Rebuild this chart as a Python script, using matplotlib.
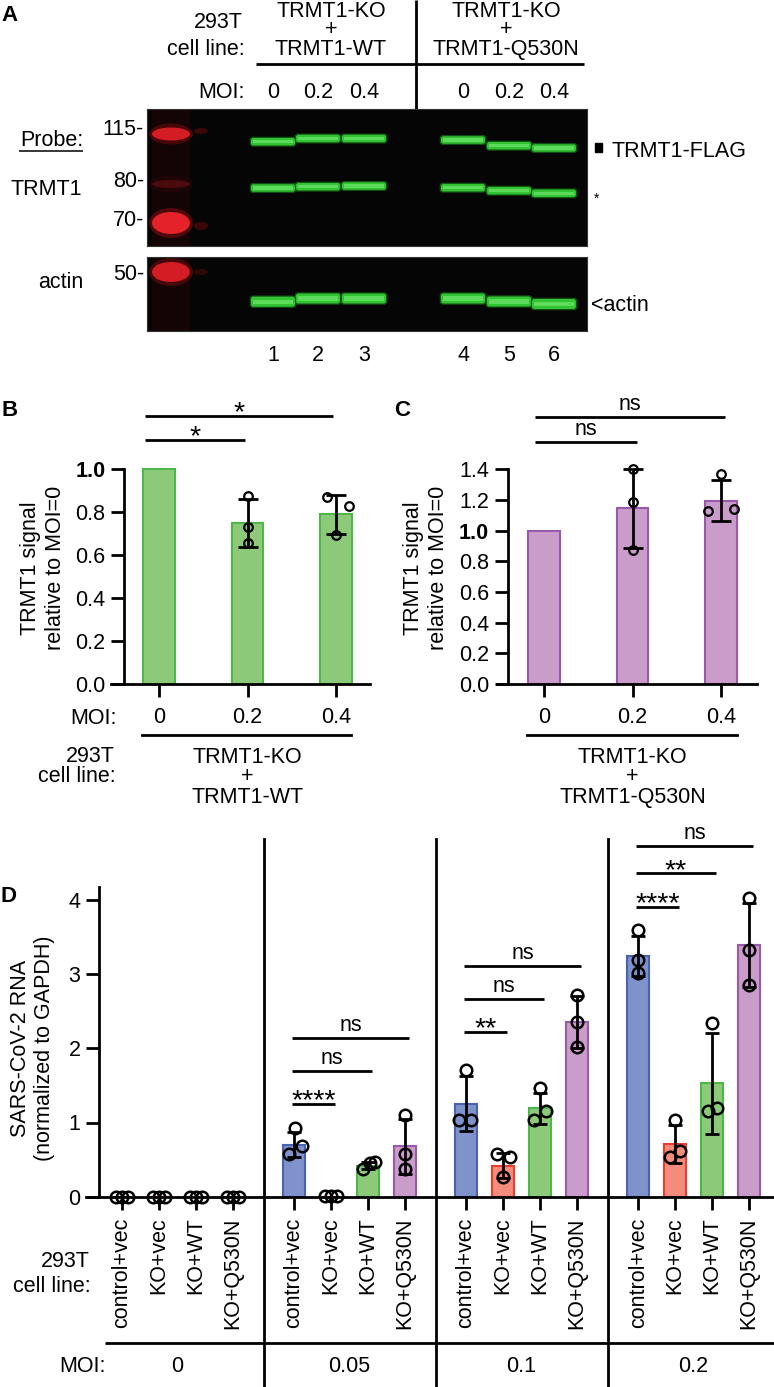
import matplotlib
matplotlib.use('Agg')
import matplotlib.pyplot as plt
import matplotlib.transforms as mtransforms
from matplotlib.patches import Rectangle, Ellipse, FancyBboxPatch
import numpy as np

plt.rcParams['font.family'] = ['Liberation Sans', 'DejaVu Sans']
FS = 15.5
FS_STAR = 20.5

# ---------------- data ----------------
# Panel A (western blot)
A_group_top = ['TRMT1-KO', 'TRMT1-KO']
A_group_bottom = ['TRMT1-WT', 'TRMT1-Q530N']
A_moi = ['0', '0.2', '0.4', '0', '0.2', '0.4']
A_lane_numbers = ['1', '2', '3', '4', '5', '6']
A_markers = ['115-', '80-', '70-', '50-']
A_marker_rows = [135, 187.3, 225.7, 280]
A_flag_band = [141.7, 138.5, 138.5, 140.0, 145.7, 148.0]
A_star_band = [188.0, 186.7, 186.0, 187.7, 190.7, 193.3]
A_actin_band = [301.7, 298.5, 298.5, 298.5, 301.5, 304.0]

# Panel B
B_moi = ['0', '0.2', '0.4']
B_mean = [1.0, 0.75, 0.79]
B_sd = [0.0, 0.11, 0.092]
B_points = [[], [0.875, 0.73, 0.655], [0.87, 0.83, 0.695]]
B_sig = [(0, 2, 1.248, '*'), (0, 1, 1.136, '*')]

# Panel C
C_moi = ['0', '0.2', '0.4']
C_mean = [1.0, 1.145, 1.195]
C_sd = [0.0, 0.258, 0.134]
C_points = [[], [1.40, 1.19, 0.875], [1.13, 1.14, 1.37]]
C_sig = [(0, 2, 1.74, 'ns'), (0, 1, 1.58, 'ns')]

# Panel D
D_cells = ['control+vec', 'KO+vec', 'KO+WT', 'KO+Q530N']
D_moi = ['0', '0.05', '0.1', '0.2']
D_mean_moi0 = [0.0, 0.0, 0.0, 0.0]
D_mean_moi005 = [0.70, 0.0, 0.42, 0.68]
D_mean_moi01 = [1.25, 0.42, 1.19, 2.36]
D_mean_moi02 = [3.25, 0.71, 1.53, 3.39]
D_sd_moi0 = [0.0, 0.0, 0.0, 0.0]
D_sd_moi005 = [0.17, 0.0, 0.05, 0.37]
D_sd_moi01 = [0.37, 0.17, 0.21, 0.35]
D_sd_moi02 = [0.27, 0.25, 0.68, 0.57]
D_pts_moi0 = [[0, 0, 0], [0, 0, 0], [0, 0, 0], [0, 0, 0]]
D_pts_moi005 = [[0.92, 0.68, 0.57], [0.01, 0.01, 0.01], [0.38, 0.46, 0.47], [1.10, 0.58, 0.38]]
D_pts_moi01 = [[1.71, 1.04, 1.04], [0.58, 0.53, 0.26], [1.46, 1.16, 1.03], [2.72, 2.36, 2.02]]
D_pts_moi02 = [[3.59, 3.19, 3.01], [1.03, 0.54, 0.61], [2.34, 1.15, 1.19], [4.02, 3.33, 2.85]]
D_sig_moi005 = [(0, 1, 1.248, '****'), (0, 2, 1.698, 'ns'), (0, 3, 2.143, 'ns')]
D_sig_moi01 = [(0, 1, 2.224, '**'), (0, 2, 2.66, 'ns'), (0, 3, 3.11, 'ns')]
D_sig_moi02 = [(0, 1, 3.908, '****'), (0, 2, 4.358, '**'), (0, 3, 4.726, 'ns')]

# ---------------- layout / style ----------------
W, H = 774, 1387
A_lane_x = [273, 318, 364, 463, 509, 554]
B_jit = [[], [0, 0, 0], [-0.10, 0.15, 0.0]]
C_jit = [[], [0, 0, 0], [-0.15, 0.15, 0.0]]
D_jit = [
    [[-0.16, 0, 0.16], [-0.16, 0, 0.16], [-0.16, 0, 0.16], [-0.16, 0, 0.16]],
    [[0.03, 0.22, -0.15], [-0.16, 0, 0.16], [-0.14, 0.06, 0.2], [0, 0, 0]],
    [[0, -0.19, 0.14], [-0.17, 0.18, 0], [0, 0.17, -0.17], [0, 0, 0]],
    [[0, 0, 0], [0, -0.14, 0.12], [0, -0.12, 0.13], [0, 0, 0]],
]
D_fill = ['#8092CC', '#F48C7C', '#8CCA7A', '#CA9CCA']
D_edge = ['#4A62B2', '#EE3B2E', '#4DB848', '#9B59AC']
GREEN_FILL, GREEN_EDGE = '#8CCA7A', '#4DB848'
PURPLE_FILL, PURPLE_EDGE = '#CA9CCA', '#9B59AC'

fig = plt.figure(figsize=(W / 100, H / 100), dpi=100)


def px_axes(x0, y0, x1, y1):
    return fig.add_axes([x0 / W, 1 - y1 / H, (x1 - x0) / W, (y1 - y0) / H])


ov = px_axes(0, 0, W, H)
ov.set_xlim(0, W)
ov.set_ylim(H, 0)
ov.axis('off')


def T(x, y, s, ha='center', va='baseline', fs=FS, **kw):
    ov.text(x, y, s, ha=ha, va=va, fontsize=fs, color='black', **kw)


def L(xs, ys, lw=2.0):
    ov.plot(xs, ys, color='black', lw=lw, solid_capstyle='butt')


# ================= Panel A =================
T(9.5, 20.7, 'A', fs=16, fontweight='bold')
T(243, 28, '293T', ha='right')
T(245, 55, 'cell line:', ha='right')
for c, top, bot in zip([331, 506], A_group_top, A_group_bottom):
    T(c, 16.7, top)
    T(c, 35, '+')
    T(c, 55, bot)
L([256, 584], [64, 64])
L([416, 416], [0, 109])
T(245, 98.3, 'MOI:', ha='right')
for x, m in zip(A_lane_x, A_moi):
    T(x, 98.3, m)
T(83, 146, 'Probe:', ha='right')
L([19, 83], [150.5, 150.5], lw=1.1)
T(82, 195, 'TRMT1', ha='right')
T(83, 288, 'actin', ha='right')
for m, r in zip(A_markers, A_marker_rows):
    T(144, r, m, ha='right')
ov.add_patch(Rectangle((595, 143), 7, 9, color='black'))
T(611, 156.7, 'TRMT1-FLAG', ha='left')
T(597, 203, '*', fs=10)
T(591, 311, '<actin', ha='left')
for x, n in zip(A_lane_x, A_lane_numbers):
    T(x, 361, n)

blot1 = px_axes(146.6, 109, 587, 246)
blot1.set_xlim(146.6, 587)
blot1.set_ylim(246, 109)
blot2 = px_axes(146.6, 257, 587, 331)
blot2.set_xlim(146.6, 587)
blot2.set_ylim(331, 257)
for b in (blot1, blot2):
    b.set_facecolor('#050505')
    b.set_xticks([])
    b.set_yticks([])
    for s in b.spines.values():
        s.set_color('#333333')
        s.set_linewidth(0.8)


def band(ax, xc, yc, hw, h):
    ax.add_patch(FancyBboxPatch((xc - hw, yc - h / 2), 2 * hw, h,
                                boxstyle='round,pad=1.2,rounding_size=3',
                                fc='#147014', ec='none', alpha=0.75))
    ax.add_patch(FancyBboxPatch((xc - hw, yc - h / 2), 2 * hw, h,
                                boxstyle='round,pad=0,rounding_size=2.5',
                                fc='#33C233', ec='none'))
    ax.add_patch(Rectangle((xc - hw + 2, yc - h * 0.22), 2 * hw - 4, h * 0.44,
                           fc='#6BE36B', ec='none', alpha=0.75))


for x, y1, y2, y3 in zip(A_lane_x, A_flag_band, A_star_band, A_actin_band):
    band(blot1, x, y1, 22, 7.5)
    band(blot1, x, y2, 22, 7.5)
    band(blot2, x, y3, 22, 10)


def ladder(ax, yc, h, col, glow):
    ax.add_patch(Ellipse((171, yc), 44, h + 8, fc=glow, ec='none', alpha=0.6))
    ax.add_patch(Ellipse((171, yc), 38, h, fc=col, ec='none'))


blot1.add_patch(Rectangle((152, 109), 38, 137, fc='#2a0406', ec='none', alpha=0.45))
blot2.add_patch(Rectangle((152, 257), 38, 74, fc='#2a0406', ec='none', alpha=0.45))
ladder(blot1, 134, 13, '#D41C24', '#6a0a0e')
ladder(blot1, 184, 8, '#4a0a0e', '#2a0406')
ladder(blot1, 223, 22, '#E3222A', '#7a0c10')
ladder(blot2, 272, 20, '#D41C24', '#6a0a0e')
blot1.add_patch(Ellipse((201, 131), 14, 6, fc='#3a0808', ec='none'))
blot1.add_patch(Ellipse((201, 226), 14, 8, fc='#3a0808', ec='none'))
blot2.add_patch(Ellipse((201, 272), 14, 6, fc='#300606', ec='none'))


# ================= helper for bar panels =================
def style_axes(ax, xleft, ybounds, xtick_len=9.4):
    for s in ('top', 'right'):
        ax.spines[s].set_visible(False)
    ax.spines['left'].set_position(('data', xleft))
    ax.spines['left'].set_bounds(*ybounds)
    ax.spines['left'].set_linewidth(2)
    ax.spines['bottom'].set_linewidth(2)
    ax.set_facecolor('none')
    ax.tick_params(axis='y', length=9.4, width=2, labelsize=FS, pad=4)
    ax.tick_params(axis='x', length=xtick_len, width=2, labelsize=FS, pad=7)


def sig(ax, x0, x1, y, text):
    ax.plot([x0, x1], [y, y], color='black', lw=2, clip_on=False, solid_capstyle='butt')
    if '*' in text:
        off, fs = -3.3, FS_STAR
    else:
        off, fs = 5, FS
    ax.annotate(text, xy=((x0 + x1) / 2, y), xytext=(0, off), textcoords='offset points',
                ha='center', va='baseline', fontsize=fs, annotation_clip=False)


def small_panel(ax, means, sds, pts, jit, fc, ec):
    x = np.arange(len(means))
    ax.bar(x, means, 0.36, color=fc, edgecolor=ec, linewidth=1.5, zorder=2)
    for i in range(len(means)):
        if sds[i] > 0:
            ax.errorbar(x[i], means[i], yerr=sds[i], fmt='none', ecolor='black',
                        elinewidth=2, capsize=7.2, capthick=2, zorder=3)
        if pts[i]:
            ax.plot(x[i] + np.array(jit[i]), pts[i], 'o', mfc='none', mec='black',
                    mew=1.6, ms=6.2, zorder=4, clip_on=False)


# ================= Panel B =================
U = 88.5
axB = px_axes(111, 390, 370, 684)
axB.set_xlim((111 - 159) / U, (370 - 159) / U)
axB.set_ylim(0, (684 - 390) / 214.7)
small_panel(axB, B_mean, B_sd, B_points, B_jit, GREEN_FILL, GREEN_EDGE)
style_axes(axB, (124 - 159) / U, (0, 1.0))
axB.set_yticks(np.arange(0, 1.01, 0.2))
axB.set_yticklabels(['%.1f' % v for v in np.arange(0, 1.01, 0.2)])
axB.set_xticks(range(len(B_moi)))
axB.set_xticklabels(B_moi)
for lbl in axB.get_yticklabels():
    if lbl.get_text() == '1.0':
        lbl.set_fontweight('bold')
axB.set_ylabel('TRMT1 signal\nrelative to MOI=0', fontsize=FS, linespacing=1.25)
axB.yaxis.set_label_coords(66, 568, transform=ov.transData)
for i, j, y, t in B_sig:
    sig(axB, i - 0.16, j - 0.03, y, t)
trB = mtransforms.blended_transform_factory(axB.transData, ov.transData)
axB.plot([-0.19, 2.17], [735, 735], transform=trB, color='black', lw=2, clip_on=False)
axB.text(1, 763, 'TRMT1-KO', transform=trB, ha='center', va='baseline', fontsize=FS)
axB.text(1, 782, '+', transform=trB, ha='center', va='baseline', fontsize=FS)
axB.text(1, 802.7, 'TRMT1-WT', transform=trB, ha='center', va='baseline', fontsize=FS)
T(117, 724, 'MOI:', ha='right')
T(115, 761.7, '293T', ha='right')
T(116, 781.7, 'cell line:', ha='right')
T(10, 416, 'B', fs=16, fontweight='bold')

# ================= Panel C =================
axC = px_axes(497, 390, 757, 684)
axC.set_xlim((497 - 544) / U, (757 - 544) / U)
axC.set_ylim(0, (684 - 390) / 153.3)
small_panel(axC, C_mean, C_sd, C_points, C_jit, PURPLE_FILL, PURPLE_EDGE)
style_axes(axC, (507.7 - 544) / U, (0, 1.4))
cy = np.arange(0, 1.41, 0.2)
axC.set_yticks(cy)
axC.set_yticklabels(['%.1f' % v for v in cy])
axC.set_xticks(range(len(C_moi)))
axC.set_xticklabels(C_moi)
for lbl in axC.get_yticklabels():
    if lbl.get_text() == '1.0':
        lbl.set_fontweight('bold')
axC.set_ylabel('TRMT1 signal\nrelative to MOI=0', fontsize=FS, linespacing=1.25)
axC.yaxis.set_label_coords(449, 568, transform=ov.transData)
for i, j, y, t in C_sig:
    sig(axC, i - 0.1, j + 0.05, y, t)
trC = mtransforms.blended_transform_factory(axC.transData, ov.transData)
axC.plot([-0.19, 2.18], [735, 735], transform=trC, color='black', lw=2, clip_on=False)
axC.text(1, 763, 'TRMT1-KO', transform=trC, ha='center', va='baseline', fontsize=FS)
axC.text(1, 782, '+', transform=trC, ha='center', va='baseline', fontsize=FS)
axC.text(1, 802.7, 'TRMT1-Q530N', transform=trC, ha='center', va='baseline', fontsize=FS)
T(401.7, 416, 'C', fs=16, fontweight='bold')

# ================= Panel D =================
UD = 37.0
STEP = 4.65
axD = px_axes(86, 820, 774, 1196.7)
axD.set_xlim((86 - 122) / UD, (774 - 122) / UD)
axD.set_ylim(0, (1196.7 - 820) / 74.2)
D_means = [D_mean_moi0, D_mean_moi005, D_mean_moi01, D_mean_moi02]
D_sds = [D_sd_moi0, D_sd_moi005, D_sd_moi01, D_sd_moi02]
D_pts = [D_pts_moi0, D_pts_moi005, D_pts_moi01, D_pts_moi02]
D_sigs = [[], D_sig_moi005, D_sig_moi01, D_sig_moi02]
xt, xl = [], []
for g in range(len(D_moi)):
    xs = g * STEP + np.arange(len(D_cells))
    axD.bar(xs, D_means[g], 0.59, color=D_fill, edgecolor=D_edge, linewidth=1.5, zorder=2)
    for i in range(len(D_cells)):
        if D_sds[g][i] > 0:
            axD.errorbar(xs[i], D_means[g][i], yerr=D_sds[g][i], fmt='none', ecolor='black',
                         elinewidth=2, capsize=5, capthick=2, zorder=3)
        axD.plot(xs[i] + np.array(D_jit[g][i]), D_pts[g][i], 'o', mfc='none', mec='black',
                 mew=1.8, ms=8.3, zorder=4, clip_on=False)
    for i, j, y, t in D_sigs[g]:
        sig(axD, xs[i] - 0.05, xs[j] + 0.1, y, t)
    xt.extend(xs)
    xl.extend(D_cells)
style_axes(axD, (99 - 122) / UD, (0, 4.18))
axD.tick_params(axis='x', pad=5.5)
axD.tick_params(axis='y', pad=4)
axD.set_yticks([0, 1, 2, 3, 4])
axD.set_xticks(xt)
axD.set_xticklabels(xl, rotation=90)
axD.set_ylabel('SARS-CoV-2 RNA\n(normalized to GAPDH)', fontsize=FS, linespacing=1.2)
axD.yaxis.set_label_coords(55, 1048, transform=ov.transData)
trD = mtransforms.blended_transform_factory(axD.transData, ov.transData)
for g in range(len(D_moi) - 1):
    xm = (g * STEP + 3 + (g + 1) * STEP) / 2
    axD.plot([xm, xm], [839, 1387], transform=trD, color='black', lw=2, clip_on=False)
for g, m in enumerate(D_moi):
    axD.text(g * STEP + 1.5, 1371.7, m, transform=trD, ha='center', va='baseline', fontsize=FS)
L([105, 774], [1342.7, 1342.7])
T(106, 1371.7, 'MOI:', ha='right')
T(90, 1266.7, '293T', ha='right')
T(91, 1291.7, 'cell line:', ha='right')
T(8.3, 901.7, 'D', fs=16, fontweight='bold')

fig.savefig('out.png', dpi=100)
